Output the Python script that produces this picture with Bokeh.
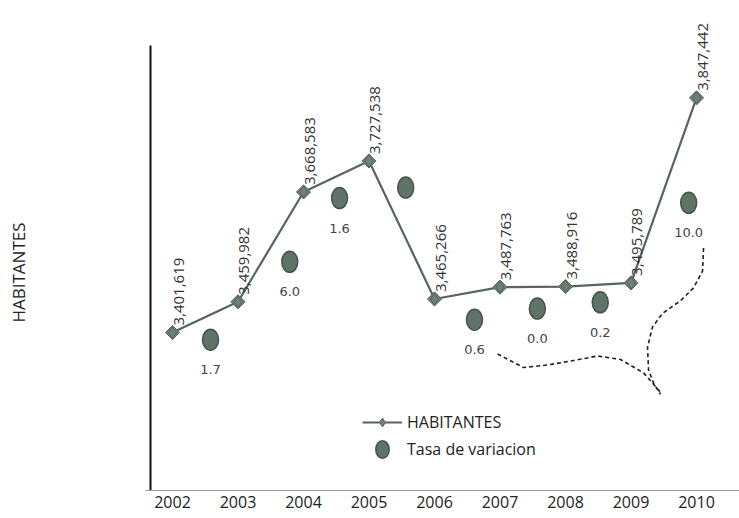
import numpy as np
from bokeh.plotting import figure
from bokeh.models import Range1d, FixedTicker, Legend, LegendItem, ColumnDataSource, Label
from bokeh.core.properties import value
from bokeh.embed import file_html
from bokeh.resources import INLINE

# Población anual
anios = [2002, 2003, 2004, 2005, 2006, 2007, 2008, 2009, 2010]
habitantes = [3401619, 3459982, 3668583, 3727538, 3465266, 3487763, 3488916, 3495789, 3847442]

# Tasa de variación entre años consecutivos (el tramo 2005-2006 no lleva rótulo)
tasa = [1.7, 6.0, 1.6, None, 0.6, 0.0, 0.2, 10.0]
# Ubicación de cada marcador de tasa (año intermedio y nivel en la escala de habitantes)
tasa_x = [2002.58, 2003.79, 2004.55, 2005.56, 2006.61, 2007.57, 2008.53, 2009.88]
tasa_nivel = [3388000, 3536000, 3657000, 3677000, 3426000, 3447000, 3459000, 3648000]

# Rangos: el marco ocupa todo el ancho; el eje vertical se dibuja en X_EJE
X_MIN, X_MAX, X_EJE = 1999.374, 2010.656, 2001.664
Y_MIN, Y_MAX, Y_EJE_TOPE = 3_101_400, 4_032_400, 3_947_000

p = figure(width=739, height=518,
           x_range=Range1d(X_MIN, X_MAX),
           y_range=Range1d(Y_MIN, Y_MAX),
           output_backend="svg", toolbar_location=None,
           min_border_left=0, min_border_right=0,
           min_border_top=0, min_border_bottom=28)
p.outline_line_color = None
p.grid.visible = False
p.background_fill_color = "white"
p.border_fill_color = "white"
p.yaxis.visible = False

# Eje X: años
xa = p.xaxis[0]
xa.ticker = FixedTicker(ticks=anios)
xa.bounds = (X_EJE - 0.075, X_MAX)
xa.major_tick_out = 0
xa.major_tick_in = 0
xa.minor_tick_out = 0
xa.minor_tick_in = 0
xa.axis_line_color = "#9a9a9a"
xa.axis_line_width = 1
xa.major_label_standoff = 5
xa.major_label_text_font = "Open Sans"
xa.major_label_text_font_size = "16px"
xa.major_label_text_color = "#222222"

# Línea del eje vertical
p.segment(x0=[X_EJE], y0=[Y_MIN], x1=[X_EJE], y1=[Y_EJE_TOPE],
          line_color="#111111", line_width=2)

# Título del eje vertical
titulo_y = Label(x=18, y=218, x_units="screen", y_units="screen",
                 text="HABITANTES", angle=np.pi / 2,
                 text_align="center", text_baseline="middle",
                 text_font="Open Sans", text_font_size="17px",
                 text_color="#222222")
p.add_layout(titulo_y)

src = ColumnDataSource(dict(x=anios, y=habitantes,
                            lab=[f"{h:,}" for h in habitantes]))

linea = p.line("x", "y", source=src, line_color="#56655d", line_width=2.2)
p.scatter("x", "y", source=src, marker="square", angle=np.pi / 4, size=10,
          fill_color="#6f8078", line_color="#56655d", line_width=1)
rombos = p.scatter("x", "y", source=src, marker="diamond", size=12,
                   fill_color="#6f8078", line_color="#56655d", line_width=1)

p.text("x", "y", text="lab", source=src, angle=np.pi / 2,
       text_align="left", text_baseline="middle",
       x_offset=6, y_offset=-7,
       text_font=value("Open Sans"), text_font_size="15px", text_color="#333333")

circulos = p.ellipse(x=tasa_x, y=tasa_nivel, width=16, height=21,
                     width_units="screen", height_units="screen",
                     fill_color="#5f7369", line_color="#44544c", line_width=1.5)

tx = [x for x, t in zip(tasa_x, tasa) if t is not None]
ty = [y for y, t in zip(tasa_nivel, tasa) if t is not None]
tl = [f"{t:.1f}" for t in tasa if t is not None]
p.text(x=tx, y=ty, text=tl, text_align="center", text_baseline="middle",
       y_offset=30, text_font=value("DejaVu Sans"), text_font_size="13px",
       text_color="#444444")

# Trazos a mano alzada (líneas discontinuas) junto al tramo final
trazo_a_x = [2006.962, 2007.359, 2007.725, 2008.122, 2008.489, 2008.840, 2009.191, 2009.450]
trazo_a_y = [3360769, 3335119, 3339869, 3348419, 3356969, 3350319, 3324859, 3288000]
trazo_b_x = [2010.107, 2010.092, 2009.954, 2009.756, 2009.481, 2009.328, 2009.252, 2009.267, 2009.344, 2009.45]
trazo_b_y = [3561979, 3518279, 3486359, 3462039, 3438099, 3411879, 3374069, 3330369, 3305479, 3284000]
p.line(trazo_a_x, trazo_a_y, line_dash="4 3", line_color="#222222", line_width=1.6)
p.line(trazo_b_x, trazo_b_y, line_dash="4 3", line_color="#222222", line_width=1.6)

leyenda = Legend(items=[LegendItem(label="HABITANTES", renderers=[linea, rombos]),
                        LegendItem(label="Tasa de variacion", renderers=[circulos])],
                 location=(362, 30), orientation="vertical",
                 glyph_width=40, glyph_height=22, label_height=22,
                 label_standoff=5, spacing=5, padding=0, margin=0,
                 border_line_alpha=0, background_fill_alpha=0,
                 label_text_font="Open Sans", label_text_font_size="16px",
                 label_text_color="#222222")
p.add_layout(leyenda, "center")

open("out.html", "w").write(file_html(p, INLINE))
